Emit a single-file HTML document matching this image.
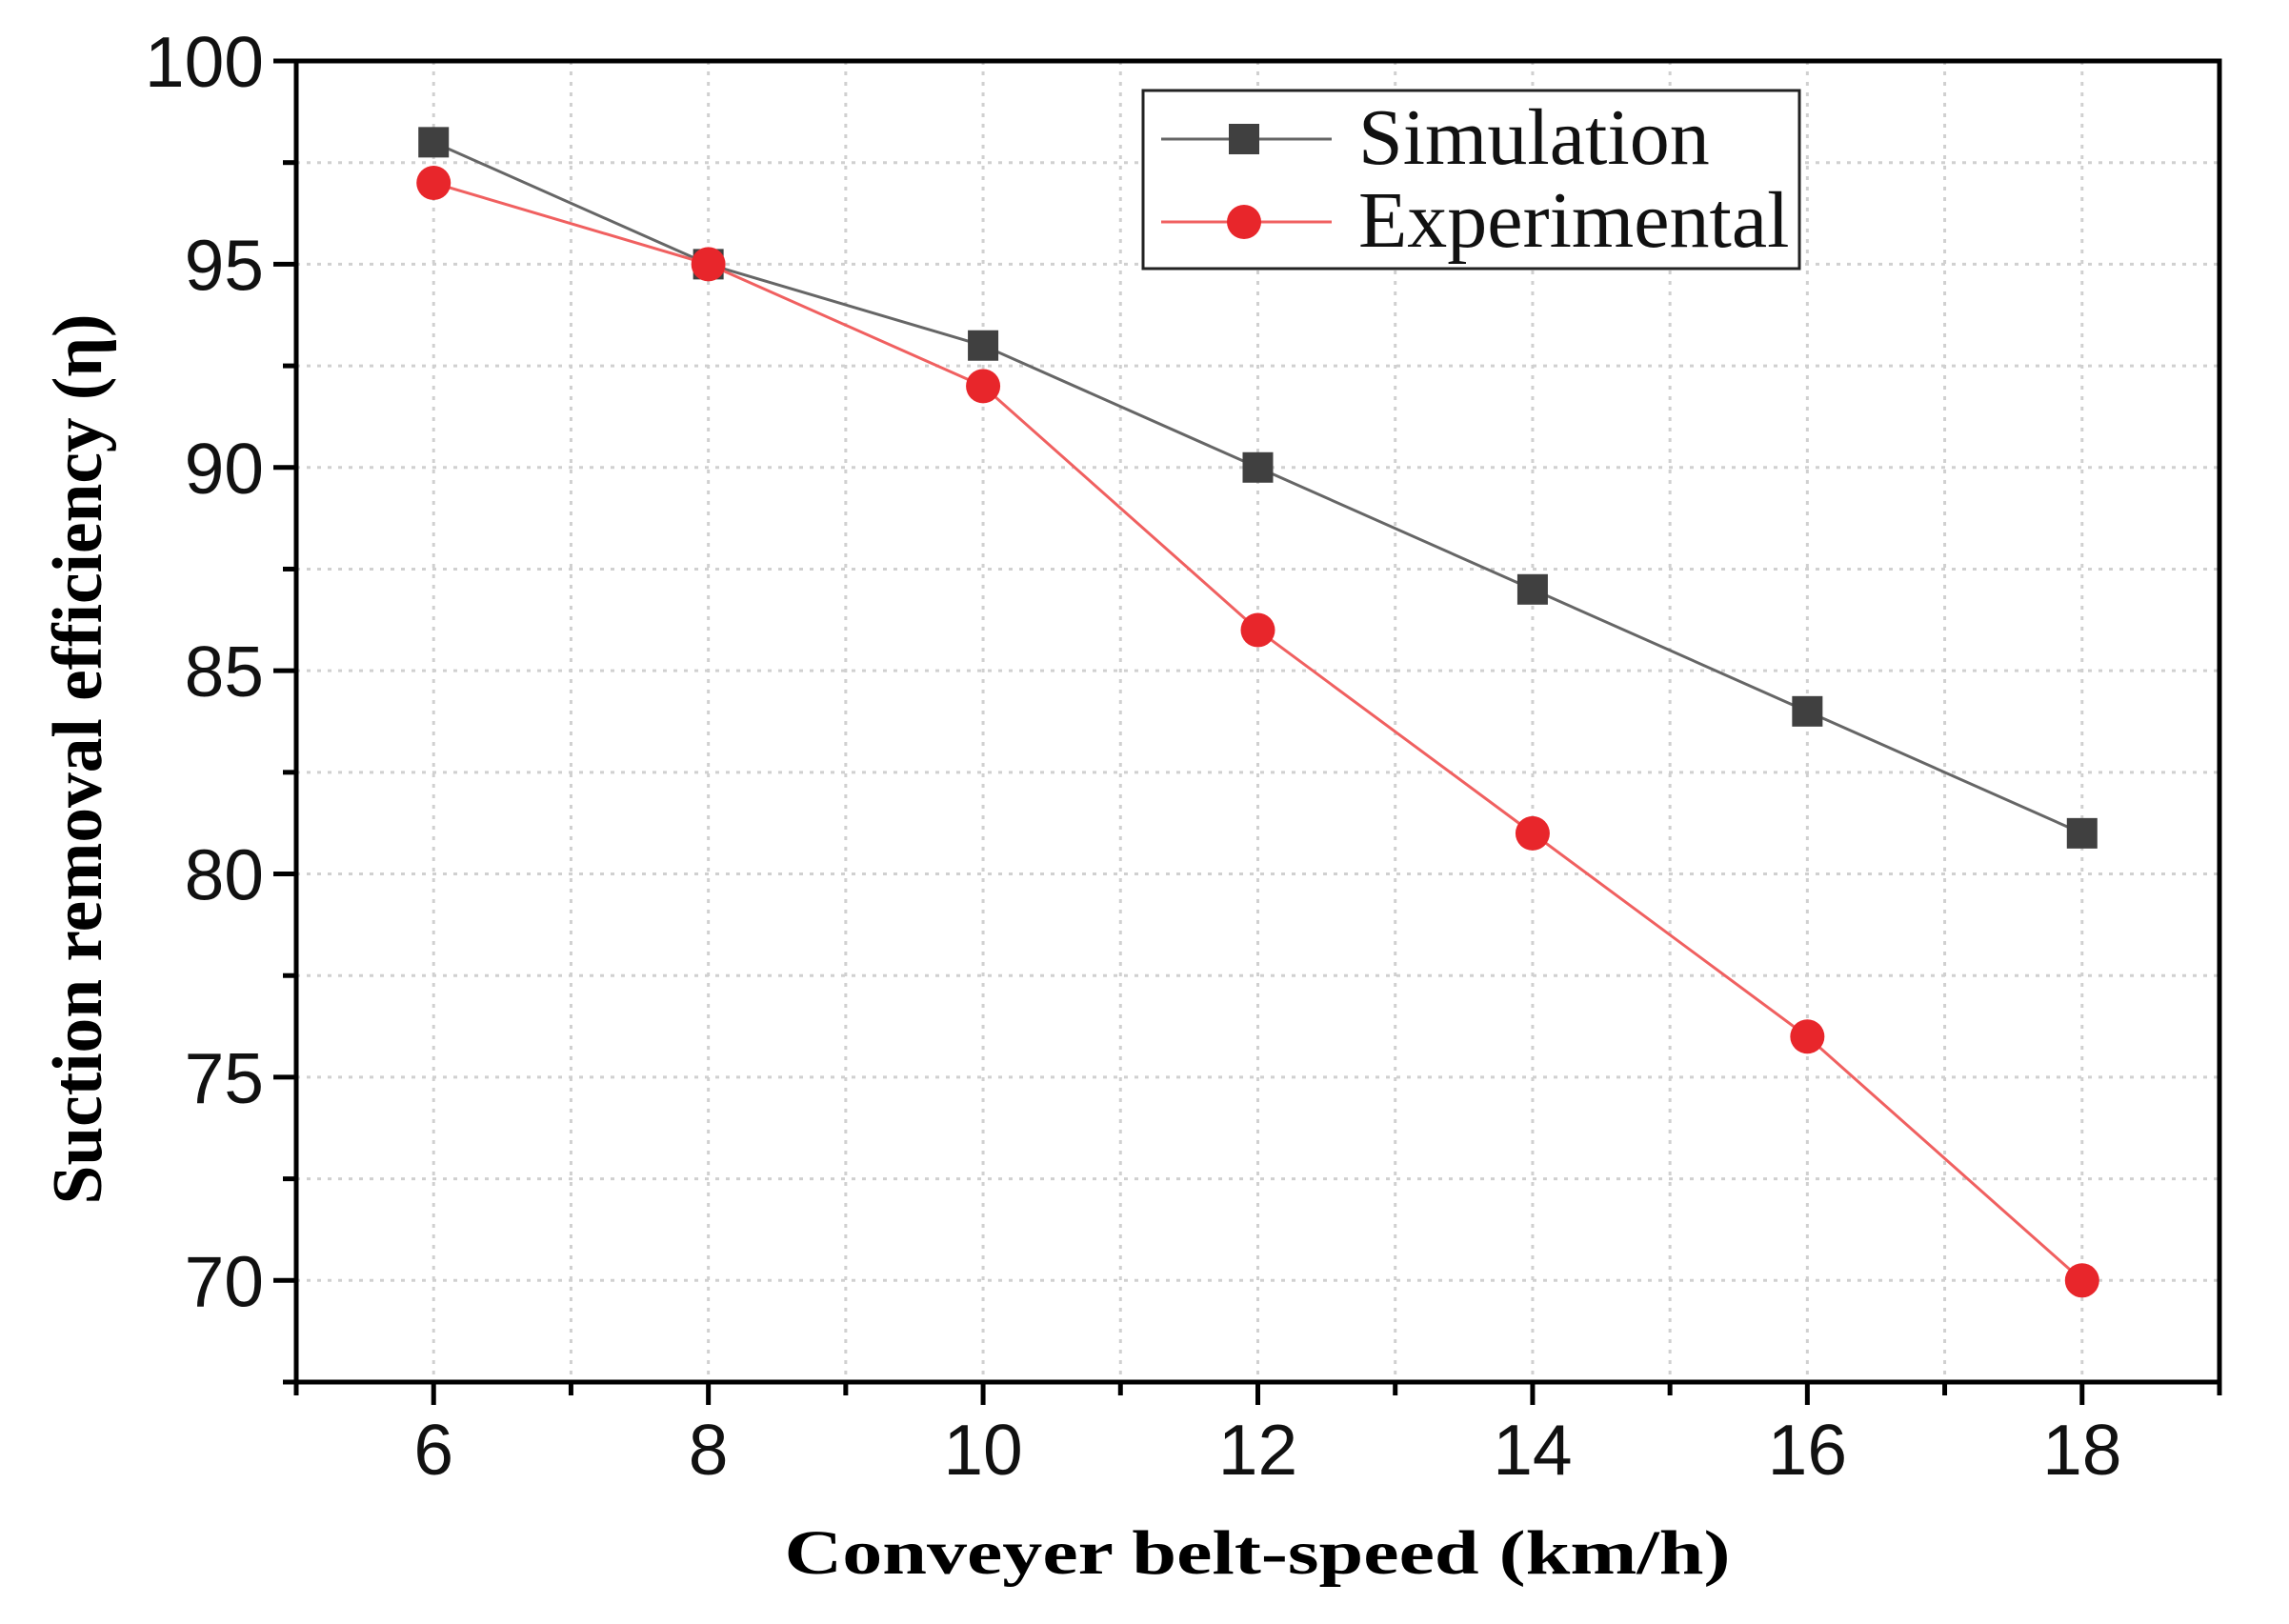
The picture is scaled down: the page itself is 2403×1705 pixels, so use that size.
<!DOCTYPE html>
<html><head><meta charset="utf-8"><style>
html,body{margin:0;padding:0;background:#fff;}
svg{display:block;}
</style></head><body>
<svg id="chart" width="2403" height="1705" viewBox="0 0 2403 1705" xmlns="http://www.w3.org/2000/svg">
<g id="grid"></g>
<g id="axes"></g>
<g id="series"></g>
<text transform="translate(106,797) rotate(-90)" text-anchor="middle" font-family="Liberation Serif, serif" font-weight="bold" font-size="74" textLength="935" lengthAdjust="spacingAndGlyphs">Suction removal efficiency (η)</text>
<text x="1320" y="1652" text-anchor="middle" font-family="Liberation Serif, serif" font-weight="bold" font-size="66" textLength="993" lengthAdjust="spacingAndGlyphs">Conveyer belt-speed (km/h)</text>
<g>
<rect x="1200" y="95" width="689" height="187" fill="#fff" stroke="#222" stroke-width="3"/>
<g>
<line x1="1219" y1="146" x2="1398" y2="146" stroke="#666" stroke-width="3"/>
<rect x="1290" y="130" width="32" height="32" fill="#404040"/>
<text x="1426" y="172" font-family="Liberation Serif, serif" font-size="84" fill="#111">Simulation</text>
</g>
<g>
<line x1="1219" y1="233" x2="1398" y2="233" stroke="#f06060" stroke-width="3"/>
<circle cx="1306" cy="233" r="18" fill="#e8262b"/>
<text x="1426" y="259" font-family="Liberation Serif, serif" font-size="84" fill="#111">Experimental</text>
</g>
</g>
</svg>
<script>
const xCategories = [6, 8, 10, 12, 14, 16, 18];
const simulationValues = [98, 95, 93, 90, 87, 84, 81];
const experimentalValues = [97, 95, 92, 86, 81, 76, 70];
const xTickLabels = ["6", "8", "10", "12", "14", "16", "18"];
const yTickLabels = ["70", "75", "80", "85", "90", "95", "100"];

const NS = "http://www.w3.org/2000/svg";
const L = 311, R = 2330, T = 64, B = 1451;
const xMin = 5, xMax = 19, yMin = 67.5, yMax = 100;
function sx(v){ return L + (v - xMin) / (xMax - xMin) * (R - L); }
function sy(v){ return B - (v - yMin) / (yMax - yMin) * (B - T); }
function mk(tag, attrs, parent){
  const e = document.createElementNS(NS, tag);
  for (const k in attrs) e.setAttribute(k, attrs[k]);
  parent.appendChild(e);
  return e;
}
const grid = document.getElementById('grid');
const axes = document.getElementById('axes');
const series = document.getElementById('series');

for (let v = 6; v <= 18; v += 1) {
  const g = mk('line', {x1: sx(v), x2: sx(v), y1: T, y2: B, stroke: '#d0d0d0', 'stroke-width': 3, 'stroke-dasharray': '4 7'}, grid);
  
  
}
for (let v = 70; v < 100; v += 2.5) {
  const g = mk('line', {x1: L, x2: R, y1: sy(v), y2: sy(v), stroke: '#d0d0d0', 'stroke-width': 3, 'stroke-dasharray': '4 7'}, grid);
  
  
}

const frame = mk('rect', {x: L, y: T, width: R - L, height: B - T, fill: 'none', stroke: '#000', 'stroke-width': 5}, axes);



for (let v = 5; v <= 19; v += 1) {
  const major = (v % 2 === 0);
  const t = mk('line', {x1: sx(v), x2: sx(v), y1: B, y2: B + (major ? 24 : 14), stroke: '#000', 'stroke-width': 5}, axes);
  
  
}
xTickLabels.forEach((lab, i) => {
  const t = mk('text', {x: sx(xCategories[i]), y: 1548, 'text-anchor': 'middle', 'font-family': 'Liberation Sans, sans-serif', 'font-size': 75, fill: '#111'}, axes);
  t.textContent = lab;
  
  
});
for (let v = 67.5; v <= 100; v += 2.5) {
  const major = (v % 5 === 0);
  const t = mk('line', {x1: L, x2: L - (major ? 24 : 14), y1: sy(v), y2: sy(v), stroke: '#000', 'stroke-width': 5}, axes);
  
  
}
yTickLabels.forEach((lab) => {
  const t = mk('text', {x: 277, y: sy(parseFloat(lab)) + 27, 'text-anchor': 'end', 'font-family': 'Liberation Sans, sans-serif', 'font-size': 75, fill: '#111'}, axes);
  t.textContent = lab;
  
  
});

function pts(vals){ return vals.map((v, i) => sx(xCategories[i]) + ',' + sy(v)).join(' '); }
const simLine = mk('polyline', {points: pts(simulationValues), fill: 'none', stroke: '#666', 'stroke-width': 3}, series);


const expLine = mk('polyline', {points: pts(experimentalValues), fill: 'none', stroke: '#f06060', 'stroke-width': 3}, series);



simulationValues.forEach((v, i) => {
  const m = mk('rect', {x: sx(xCategories[i]) - 16, y: sy(v) - 16, width: 32, height: 32, fill: '#404040'}, series);
  
  
});
experimentalValues.forEach((v, i) => {
  const m = mk('circle', {cx: sx(xCategories[i]), cy: sy(v), r: 18, fill: '#e8262b'}, series);
  
  
});
</script>
</body></html>
